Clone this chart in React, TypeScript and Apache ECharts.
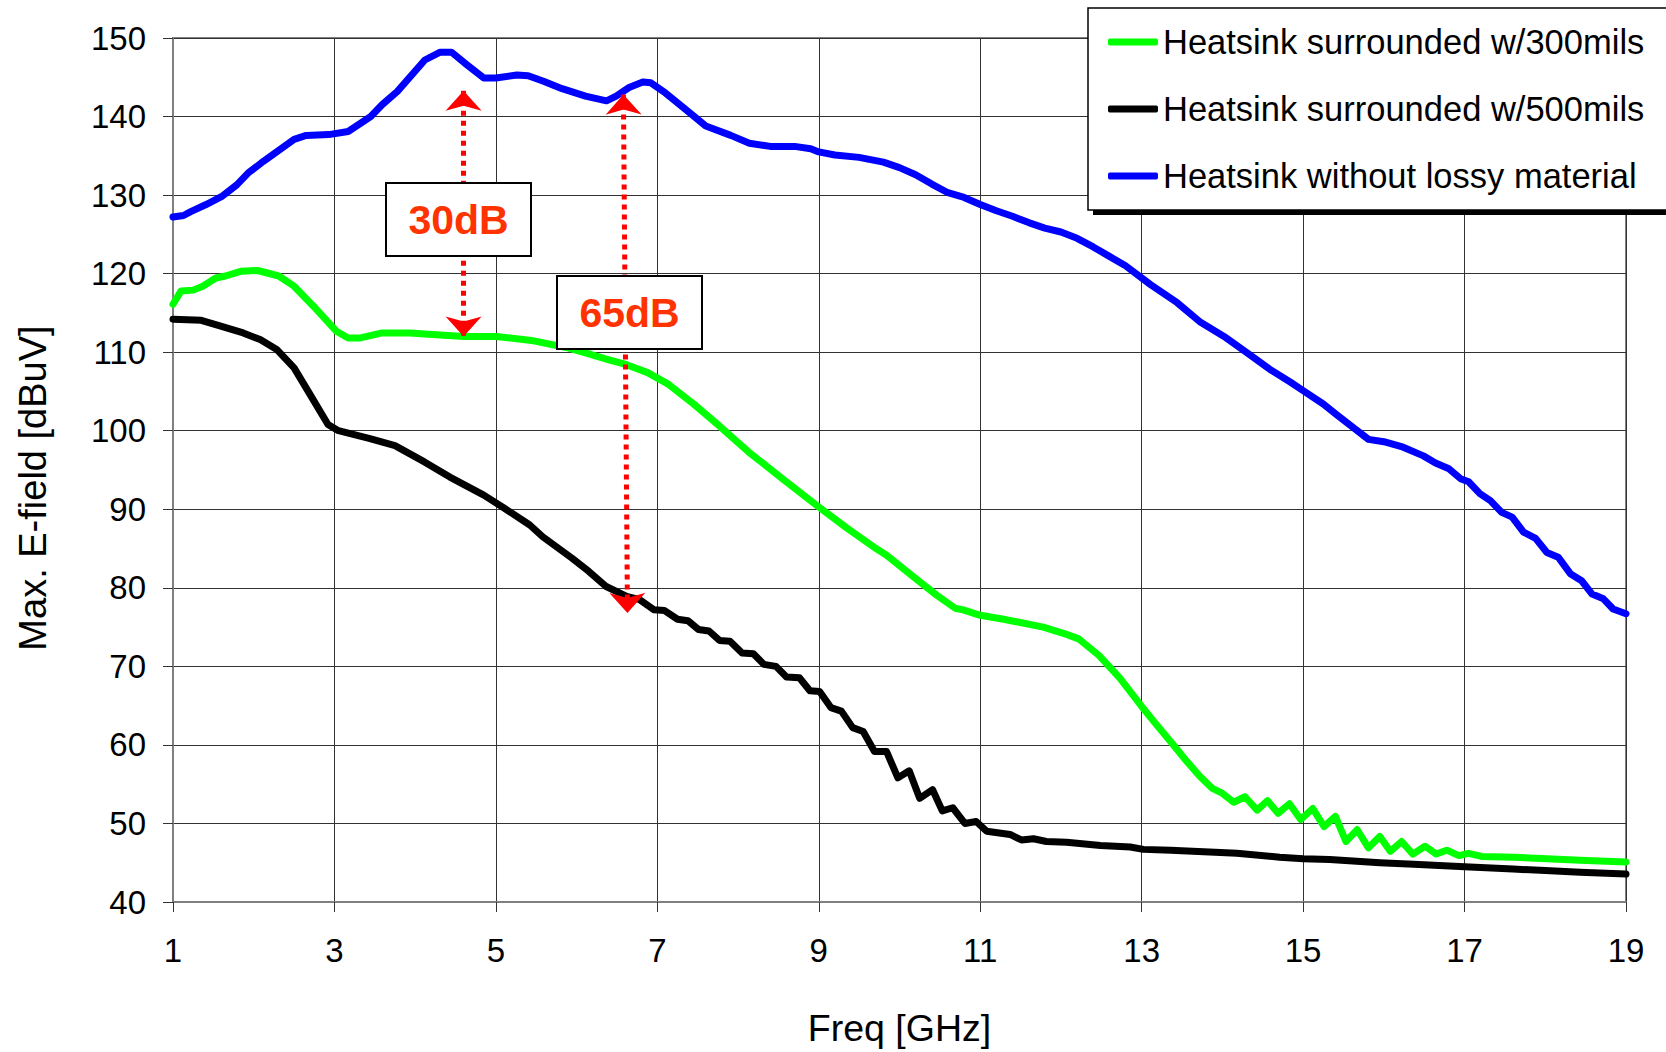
import React, { useEffect, useRef } from "react";
import * as echarts from "echarts";

const seriesNames = [
  "Heatsink surrounded w/300mils",
  "Heatsink surrounded w/500mils",
  "Heatsink without lossy material",
];
const seriesColors = ["#00FF00", "#000000", "#0000FF"];

// [frequency GHz, max E-field dBuV]
const green300: [number, number][] = [
  [1.0, 116.1], [1.1, 117.8], [1.25, 117.9], [1.37, 118.4], [1.53, 119.45], [1.65, 119.7],
  [1.84, 120.3], [2.05, 120.4], [2.31, 119.7], [2.5, 118.4], [2.74, 115.85], [3.02, 112.7],
  [3.17, 111.8], [3.31, 111.8], [3.59, 112.45], [3.93, 112.45], [4.31, 112.2], [4.61, 112.0],
  [5.0, 112.0], [5.44, 111.5], [5.87, 110.6], [6.11, 109.9], [6.39, 109.05], [6.62, 108.4],
  [6.88, 107.4], [7.14, 105.9], [7.45, 103.4], [7.77, 100.6], [8.13, 97.3], [8.55, 93.9],
  [9.0, 90.3], [9.35, 87.6], [9.71, 85.0], [9.84, 84.15], [10.25, 80.76], [10.46, 79.07],
  [10.69, 77.4], [10.79, 77.2], [11.0, 76.5], [11.29, 76.0], [11.78, 75.0], [12.07, 74.07],
  [12.22, 73.5], [12.47, 71.4], [12.73, 68.5], [13.0, 64.9], [13.15, 63.0], [13.36, 60.4],
  [13.56, 57.9], [13.72, 56.0], [13.87, 54.5], [13.99, 53.9], [14.14, 52.7], [14.28, 53.4],
  [14.43, 51.7], [14.56, 52.9], [14.69, 51.3], [14.83, 52.5], [14.97, 50.5], [15.12, 51.9],
  [15.26, 49.6], [15.4, 50.9], [15.53, 47.7], [15.67, 49.2], [15.81, 46.9], [15.95, 48.35],
  [16.08, 46.45], [16.22, 47.7], [16.36, 46.1], [16.51, 47.1], [16.65, 46.1], [16.78, 46.6],
  [16.93, 45.9], [17.05, 46.2], [17.21, 45.8], [17.61, 45.7], [18.02, 45.5], [18.43, 45.3],
  [19.0, 45.1],
];

const black500: [number, number][] = [
  [1.0, 114.2], [1.35, 114.05], [1.56, 113.4], [1.87, 112.45], [2.08, 111.6], [2.29, 110.3],
  [2.5, 108.0], [2.71, 104.4], [2.92, 100.8], [3.05, 100.0], [3.44, 99.0], [3.75, 98.1],
  [4.12, 96.0], [4.43, 94.1], [4.85, 91.8], [5.11, 90.1], [5.42, 88.0], [5.58, 86.5],
  [5.94, 83.8], [6.15, 82.1], [6.36, 80.2], [6.62, 78.9], [6.78, 78.5], [6.96, 77.2],
  [7.09, 77.1], [7.25, 76.0], [7.38, 75.8], [7.51, 74.7], [7.64, 74.5], [7.77, 73.3],
  [7.9, 73.2], [8.05, 71.7], [8.19, 71.6], [8.32, 70.25], [8.47, 70.0], [8.6, 68.65],
  [8.76, 68.55], [8.89, 66.9], [9.01, 66.8], [9.15, 64.75], [9.28, 64.3], [9.42, 62.2],
  [9.55, 61.7], [9.69, 59.15], [9.84, 59.15], [9.98, 55.8], [10.12, 56.7], [10.25, 53.2],
  [10.41, 54.3], [10.53, 51.6], [10.66, 52.0], [10.81, 50.0], [10.95, 50.25], [11.08, 49.0],
  [11.37, 48.6], [11.51, 47.9], [11.66, 48.05], [11.82, 47.7], [12.07, 47.6], [12.49, 47.2],
  [12.86, 47.0], [13.02, 46.7], [13.36, 46.6], [13.77, 46.4], [14.18, 46.2], [14.71, 45.7],
  [15.0, 45.5], [15.33, 45.4], [15.95, 45.0], [16.37, 44.8], [17.0, 44.5], [17.6, 44.2],
  [18.0, 44.0], [18.43, 43.8], [19.0, 43.55],
];

const blueNoLossy: [number, number][] = [
  [1.0, 127.2], [1.13, 127.4], [1.22, 127.9], [1.41, 128.8], [1.6, 129.8], [1.79, 131.3],
  [1.93, 132.8], [2.12, 134.3], [2.31, 135.7], [2.5, 137.1], [2.65, 137.6], [2.93, 137.7],
  [3.17, 138.1], [3.45, 140.0], [3.59, 141.5], [3.78, 143.2], [4.12, 147.2], [4.31, 148.2],
  [4.45, 148.2], [4.64, 146.6], [4.85, 144.9], [5.0, 144.9], [5.26, 145.3], [5.4, 145.2],
  [5.59, 144.5], [5.82, 143.55], [6.11, 142.6], [6.37, 142.0], [6.49, 142.6], [6.65, 143.7],
  [6.82, 144.4], [6.92, 144.3], [7.1, 143.0], [7.34, 141.0], [7.6, 138.8], [7.91, 137.6],
  [8.14, 136.6], [8.4, 136.2], [8.7, 136.2], [8.9, 135.9], [9.0, 135.5], [9.2, 135.1],
  [9.5, 134.8], [9.8, 134.2], [10.0, 133.5], [10.2, 132.6], [10.4, 131.4], [10.6, 130.3],
  [10.8, 129.7], [11.0, 128.8], [11.2, 128.0], [11.4, 127.3], [11.6, 126.5], [11.8, 125.8],
  [12.0, 125.3], [12.2, 124.5], [12.4, 123.4], [12.6, 122.2], [12.8, 121.0], [13.11, 118.6],
  [13.44, 116.3], [13.73, 113.8], [14.02, 112.0], [14.35, 109.6], [14.59, 107.8], [14.84, 106.2],
  [15.0, 105.1], [15.25, 103.4], [15.42, 102.0], [15.62, 100.4], [15.81, 98.9], [16.0, 98.6],
  [16.24, 97.9], [16.49, 96.8], [16.64, 95.9], [16.8, 95.2], [16.95, 93.9], [17.05, 93.5],
  [17.19, 92.0], [17.32, 91.1], [17.46, 89.6], [17.59, 89.0], [17.73, 87.1], [17.88, 86.3],
  [18.02, 84.5], [18.16, 83.9], [18.31, 81.8], [18.45, 80.9], [18.58, 79.2], [18.72, 78.6],
  [18.84, 77.3], [19.0, 76.7],
];

// annotation arrows (data coords of the two arrow tips)
const arrow30dB: [number, number][] = [[4.6, 143.3], [4.6, 112.0]];
const arrow65dB: [number, number][] = [[6.58, 142.8], [6.63, 76.8]];
const annotationLabels = ["30dB", "65dB"];

const FONT = "'Liberation Sans', Arial, Helvetica, sans-serif";

export default function App() {
  const ref = useRef<HTMLDivElement>(null);

  useEffect(() => {
    document.body.style.margin = "0";
    const chart = echarts.init(ref.current!, null, { renderer: "svg" });
    const allData = [green300, black500, blueNoLossy];

    const option: any = {
      animation: false,
      backgroundColor: "#ffffff",
      textStyle: { fontFamily: FONT },
      grid: {
        left: 173,
        right: 40,
        top: 38,
        bottom: 148,
        show: true,
        borderColor: "#808080",
        borderWidth: 2,
        backgroundColor: "transparent",
      },
      legend: {
        data: seriesNames,
        orient: "vertical",
        left: 1108,
        top: 22,
        padding: 0,
        itemGap: 27,
        itemWidth: 50,
        itemHeight: 7,
        icon: "roundRect",
        z: 5,
        textStyle: {
          fontSize: 34.5,
          color: "#000",
          fontFamily: FONT,
          lineHeight: 40,
        },
      },
      xAxis: {
        type: "value",
        min: 1,
        max: 19,
        interval: 2,
        name: "Freq [GHz]",
        nameLocation: "middle",
        nameGap: 107,
        nameTextStyle: { fontSize: 37.5, color: "#000", fontFamily: FONT },
        axisLine: { show: true, lineStyle: { color: "#808080", width: 2 } },
        axisTick: { show: true, length: 10, lineStyle: { color: "#333", width: 1 } },
        axisLabel: { fontSize: 33, color: "#000", margin: 32, fontFamily: FONT },
        splitLine: { show: true, lineStyle: { color: "#333", width: 1 } },
      },
      yAxis: {
        type: "value",
        min: 40,
        max: 150,
        interval: 10,
        name: "Max. E-field [dBuV]",
        nameLocation: "middle",
        nameGap: 121,
        nameTextStyle: {
          fontSize: 38,
          color: "#000",
          fontFamily: FONT,
          padding: [0, 36, 0, 0],
        },
        axisLine: { show: true, lineStyle: { color: "#808080", width: 2 } },
        axisTick: { show: true, length: 10, lineStyle: { color: "#333", width: 1 } },
        axisLabel: { fontSize: 33, color: "#000", margin: 27, fontFamily: FONT },
        splitLine: { show: true, lineStyle: { color: "#333", width: 1 } },
      },
      series: seriesNames.map((name, i) => ({
        name,
        type: "line",
        data: allData[i],
        symbol: "none",
        showSymbol: false,
        color: seriesColors[i],
        lineStyle: { color: seriesColors[i], width: 7, cap: "round", join: "round" },
        z: 2,
        ...(i === 0
          ? {
              markLine: {
                silent: true,
                symbol: ["arrow", "arrow"],
                symbolSize: [27, 20],
                label: { show: false },
                lineStyle: { color: "#FF0000", width: 5, type: [5, 5], cap: "butt" },
                itemStyle: { color: "#FF0000" },
                emphasis: { disabled: true },
                data: [arrow30dB, arrow65dB].map((a) => [
                  { coord: a[0] },
                  { coord: a[1] },
                ]),
              },
            }
          : {}),
      })),
      graphic: [
        // legend box with hard shadow
        {
          type: "rect",
          z: 3,
          shape: { x: 1093, y: 13, width: 620, height: 202 },
          style: { fill: "#000" },
          silent: true,
        },
        {
          type: "rect",
          z: 3,
          shape: { x: 1088, y: 8, width: 620, height: 202 },
          style: { fill: "#fff", stroke: "#000", lineWidth: 1.5 },
          silent: true,
        },
        // annotation boxes
        ...[
          { x: 386, y: 183 },
          { x: 557, y: 276 },
        ].flatMap((b, i) => [
          {
            type: "rect",
            z: 20,
            shape: { x: b.x, y: b.y, width: 145, height: 73 },
            style: { fill: "#fff", stroke: "#000", lineWidth: 2 },
            silent: true,
          },
          {
            type: "text",
            z: 21,
            x: b.x + 72.5,
            y: b.y + 37,
            style: {
              text: annotationLabels[i],
              fill: "#FF3300",
              font: `bold 41px ${FONT}`,
              align: "center",
              verticalAlign: "middle",
            },
            silent: true,
          },
        ]),
      ],
    };

    chart.setOption(option);
    return () => chart.dispose();
  }, []);

  return <div ref={ref} style={{ width: 1666, height: 1052 }} />;
}
